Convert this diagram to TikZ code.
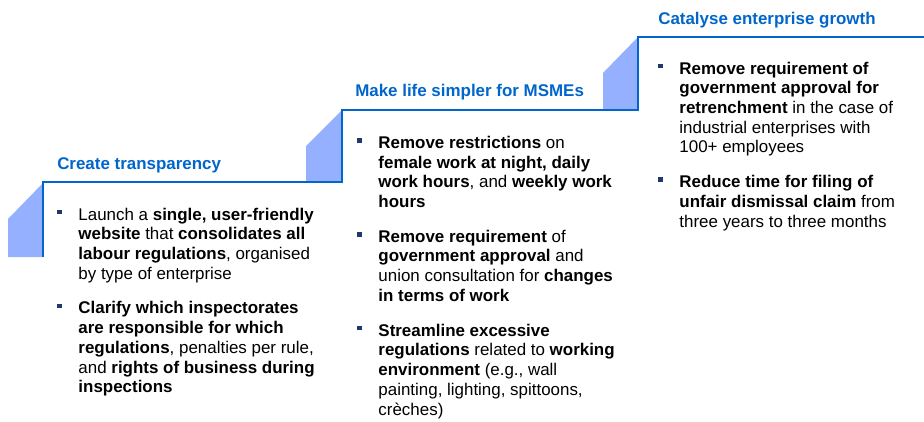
\documentclass[tikz,border=0pt]{standalone}
\usepackage{fontspec}
\setmainfont{Liberation Sans}
\definecolor{mainblue}{RGB}{0,102,204}
\definecolor{lightstep}{RGB}{148,176,255}
\definecolor{bulletblue}{RGB}{31,56,110}
\newcommand{\bul}{\textcolor{bulletblue}{\rule[4.3pt]{3.4pt}{3.4pt}}}
\newcommand{\itemfont}{\fontsize{12.7pt}{14.8pt}\selectfont}
\begin{document}
\begin{tikzpicture}[x=0.75pt,y=-0.75pt,
   stepfill/.style={fill=lightstep},
   stepline/.style={draw=mainblue,line width=2.2pt},
   title/.style={anchor=base west,inner sep=0pt,font=\itemfont\bfseries,text=mainblue},
   items/.style={anchor=base west,inner sep=0pt,font=\itemfont}]
   \useasboundingbox (0,0) rectangle (924,421);

   % the three steps
   \fill[stepfill] (8,257) -- (8,219) -- (43,183) -- (43,257) -- cycle;
   \fill[stepfill] (306,182) -- (306,146) -- (342,110) -- (342,182) -- cycle;
   \fill[stepfill] (603,109) -- (603,73) -- (638,37) -- (638,109) -- cycle;
   \draw[stepline] (43,257) -- (43,182) -- (342,182) -- (342,110) -- (638,110) -- (638,37) -- (924,37);

   \node[title] (t1) at (57,169) {Create transparency};
   \node[title] (t2) at (355,96.7) {Make life simpler for MSMEs};
   \node[title] (t3) at (658,24) {Catalyse enterprise growth};

   \node[items] (c1) at (57,220) {
      \begin{tabular}[t]{@{}l@{\hspace{12.5pt}}l@{}}
      \bul & Launch a \textbf{single, user-friendly} \\
           & \textbf{website} that \textbf{consolidates all} \\
           & \textbf{labour regulations}, organised \\
           & by type of enterprise \\[11.25pt]
      \bul & \textbf{Clarify which inspectorates} \\
           & \textbf{are responsible for which} \\
           & \textbf{regulations}, penalties per rule, \\
           & and \textbf{rights of business during} \\
           & \textbf{inspections} \\
      \end{tabular}
   };

   \node[items] (c2) at (357,148.3) {
      \begin{tabular}[t]{@{}l@{\hspace{12.5pt}}l@{}}
      \bul & \textbf{Remove restrictions} on \\
           & \textbf{female work at night, daily} \\
           & \textbf{work hours}, and \textbf{weekly work} \\
           & \textbf{hours} \\[11.25pt]
      \bul & \textbf{Remove requirement} of \\
           & \textbf{government approval} and \\
           & union consultation for \textbf{changes} \\
           & \textbf{in terms of work} \\[11.25pt]
      \bul & \textbf{Streamline excessive} \\
           & \textbf{regulations} related to \textbf{working} \\
           & \textbf{environment} (e.g., wall \\
           & painting, lighting, spittoons, \\
           & crèches) \\
      \end{tabular}
   };

   \node[items] (c3) at (658,74) {
      \begin{tabular}[t]{@{}l@{\hspace{12.5pt}}l@{}}
      \bul & \textbf{Remove requirement of} \\
           & \textbf{government approval for} \\
           & \textbf{retrenchment} in the case of \\
           & industrial enterprises with \\
           & 100+ employees \\[11.25pt]
      \bul & \textbf{Reduce time for filing of} \\
           & \textbf{unfair dismissal claim} from \\
           & three years to three months \\
      \end{tabular}
   };
\end{tikzpicture}
\end{document}
